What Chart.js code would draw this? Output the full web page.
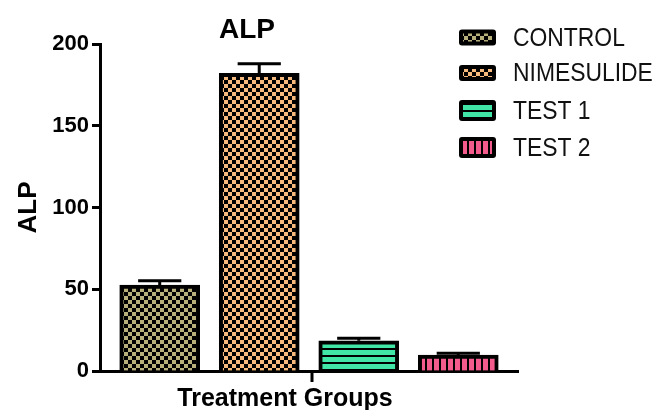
<!DOCTYPE html>
<html>
<head>
<meta charset="utf-8">
<script src="https://cdn.jsdelivr.net/npm/chart.js@4/dist/chart.umd.min.js"></script>
<style>
  html, body { margin: 0; padding: 0; background: #fff; }
  #wrap { width: 667px; height: 410px; }
</style>
</head>
<body>
<div id="wrap"><canvas id="c" width="667" height="410"></canvas></div>
<script>
// ALP by treatment group: mean and SEM
const groups = ['CONTROL', 'NIMESULIDE', 'TEST 1', 'TEST 2'];
const alpMean = [52.6, 182.1, 18.5, 9.8];
const alpSem = [2.6, 5.8, 1.6, 1.0];
const yTicks = [0, 50, 100, 150, 200];
const chartTitle = 'ALP';
const yTitle = 'ALP';
const xTitle = 'Treatment Groups';

const FONT = '"Liberation Sans", Arial, sans-serif';

// Fill tiles
function makeTile(w, h, bg, draw) {
  const c = document.createElement('canvas');
  c.width = w; c.height = h;
  const g = c.getContext('2d');
  g.fillStyle = bg; g.fillRect(0, 0, w, h);
  g.fillStyle = '#000';
  draw(g);
  return c;
}
const checker = bg => makeTile(8, 8, bg, g => { g.fillRect(0, 0, 4, 4); g.fillRect(4, 4, 4, 4); });
const hStripes = bg => makeTile(7, 7, bg, g => g.fillRect(0, 5, 7, 2));
const vStripes = bg => makeTile(7, 7, bg, g => g.fillRect(5, 0, 2, 7));

const ctx = document.getElementById('c').getContext('2d');
const tiles = [checker('#b8b07b'), checker('#f7b97c'), hStripes('#41e6a6'), vStripes('#f45b8d')];
const swatchHeights = [16, 16, 21, 21];
const fills = tiles.map(t => ctx.createPattern(t, 'repeat'));

const datasets = groups.map((name, i) => ({
  label: name,
  data: [{ x: i + 0.6, y: alpMean[i] }],
  sem: alpSem[i],
  backgroundColor: fills[i],
  borderColor: '#000',
  borderWidth: 4,
  barThickness: 80,
  grouped: false
}));

// Upper error bars (mean + SEM) with caps
const errorBars = {
  id: 'errorBars',
  afterDatasetsDraw(chart) {
    const c = chart.ctx, y = chart.scales.y;
    c.save();
    c.strokeStyle = '#000';
    c.lineWidth = 3;
    chart.data.datasets.forEach((ds, i) => {
      const bar = chart.getDatasetMeta(i).data[0];
      const top = y.getPixelForValue(ds.data[0].y + ds.sem);
      const half = bar.width * 0.27;
      c.beginPath();
      c.moveTo(bar.x, bar.y);
      c.lineTo(bar.x, top);
      c.moveTo(bar.x - half, top);
      c.lineTo(bar.x + half, top);
      c.stroke();
    });
    c.restore();
  }
};

// Chart title, x-axis title, group tick and the legend
const labelsAndLegend = {
  id: 'labelsAndLegend',
  afterDraw(chart) {
    const c = chart.ctx, area = chart.chartArea;
    c.save();
    // single group tick under the x axis
    const mid = Math.round((area.left + area.right) / 2) + 3;
    c.strokeStyle = '#000';
    c.lineWidth = 3;
    c.beginPath();
    c.moveTo(mid, area.bottom - 1);
    c.lineTo(mid, area.bottom + 11);
    c.stroke();

    c.fillStyle = '#000';
    c.textAlign = 'center';
    c.textBaseline = 'alphabetic';
    c.font = 'bold 28px ' + FONT;
    c.fillText(chartTitle, 247, 38);
    c.font = 'bold 25px ' + FONT;
    c.fillText(xTitle, 285, 406);

    const rowY = [37.5, 73, 110.5, 147.5];
    c.textBaseline = 'middle';
    c.textAlign = 'left';
    c.font = '26px ' + FONT;
    chart.data.datasets.forEach((ds, i) => {
      const h = swatchHeights[i], w = 37, x = 459, y = rowY[i] - h / 2;
      c.fillStyle = '#000';
      c.beginPath();
      c.roundRect(x, y, w, h, 3);
      c.fill();
      c.fillStyle = ds.backgroundColor;
      c.fillRect(x + 4, y + 4, w - 8, h - 8);
      // condensed legend lettering
      c.save();
      c.translate(513, rowY[i] + 1);
      c.scale(0.88, 1);
      c.fillStyle = '#111';
      c.fillText(ds.label, 0, 0);
      c.restore();
    });
    c.restore();
  }
};

new Chart(ctx, {
  type: 'bar',
  data: { datasets },
  plugins: [errorBars, labelsAndLegend],
  options: {
    responsive: false,
    animation: false,
    layout: { padding: { left: 0, top: 44, right: 149, bottom: 0 } },
    plugins: { legend: { display: false }, tooltip: { enabled: false }, title: { display: false } },
    scales: {
      x: {
        type: 'linear',
        min: 0,
        max: 4.2,
        offset: false,
        border: { display: true, color: '#000', width: 3 },
        grid: { display: false },
        ticks: { display: false },
        afterFit: s => { s.height = 39; }
      },
      y: {
        min: 0,
        max: 200,
        border: { display: true, color: '#000', width: 3 },
        grid: { drawOnChartArea: false, tickLength: 8, tickWidth: 3, tickColor: '#000' },
        afterBuildTicks: s => { s.ticks = yTicks.map(v => ({ value: v })); },
        ticks: { color: '#000', padding: 3, font: { family: FONT, weight: 'bold', size: 22 } },
        title: { display: true, text: yTitle, color: '#000', padding: { top: 13, bottom: 0 },
                 font: { family: FONT, weight: 'bold', size: 26 } },
        afterFit: s => { s.width = 100; }
      }
    }
  }
});
</script>
</body>
</html>
